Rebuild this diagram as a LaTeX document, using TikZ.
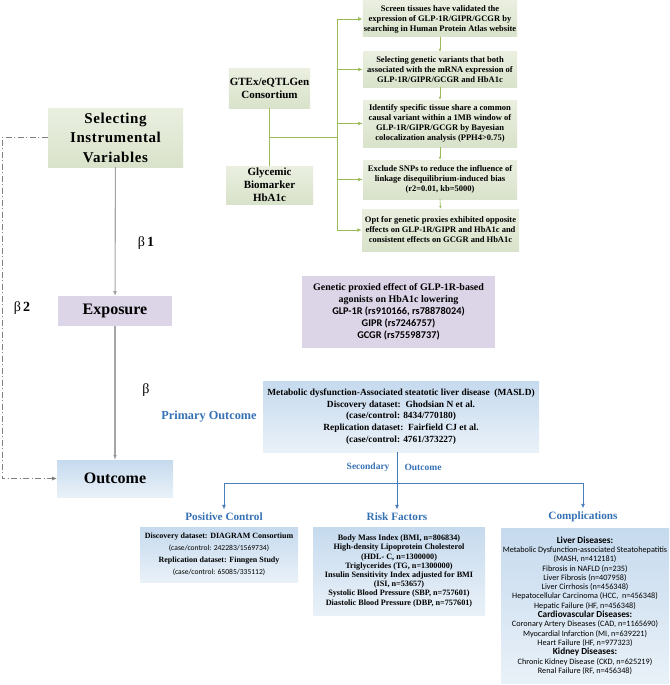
\documentclass[tikz,border=0pt]{standalone}
\usepackage{fontspec}
\setmainfont{Liberation Serif}
\newfontfamily\cbfont{Carlito}
\newfontfamily\wideserif[LetterSpace=4]{Liberation Serif}
\usetikzlibrary{arrows.meta,positioning}
\definecolor{gtop}{HTML}{EAEFE0}
\definecolor{gbot}{HTML}{D9E2CA}
\definecolor{pfill}{HTML}{DCD5E8}
\definecolor{btop}{HTML}{C6DAEE}
\definecolor{bbot}{HTML}{E9F1F8}
\definecolor{lgreen}{HTML}{9BBB59}
\definecolor{lblue}{HTML}{4A7EBB}
\definecolor{tblue}{HTML}{3671B5}
\definecolor{lgray}{HTML}{A5A5A5}
\definecolor{dgray}{HTML}{808080}
\tikzset{>={Latex[width=1.4mm,length=1.6mm]}}
\tikzset{greenbox/.style={top color=gtop, bottom color=gbot, draw=none,
    align=center, inner sep=1pt, font=\bfseries\fontsize{8.5}{10}\selectfont}}
\tikzset{purplebox/.style={fill=pfill, draw=none, align=center, inner sep=1pt}}
\tikzset{bluebox/.style={top color=btop, bottom color=bbot, draw=none,
    align=center, inner sep=1pt}}
\tikzset{bigtext/.style={font=\bfseries\fontsize{16}{19.5}\selectfont}}
\tikzset{midtext/.style={font=\bfseries\fontsize{11}{13}\selectfont}}
\tikzset{bluetitle/.style={text=tblue, font=\bfseries\fontsize{11.2}{13}\selectfont}}
\tikzset{betatext/.style={font=\fontsize{14}{16}\selectfont}}
\tikzset{grayarrow/.style={->, draw=lgray, line width=1.1pt}}
\tikzset{greenline/.style={draw=lgreen, line width=0.9pt}}
\tikzset{blueline/.style={draw=lblue, line width=0.9pt}}
\tikzset{ivdash/.style={->, draw=dgray, line width=0.7pt,
    dash pattern=on 6pt off 2.5pt on 1pt off 2.5pt}}

\begin{document}
\begin{tikzpicture}[x=1pt, y=-1pt]
    \useasboundingbox (0,0) rectangle (669,685);
    % left column
    \node[greenbox, font=\wideserif\bfseries\fontsize{15}{19.5}\selectfont,
      minimum width=135pt, minimum height=59pt] (siv) at (115.5,137.5)
      {Selecting\\Instrumental\\Variables};
    \node[purplebox, bigtext, minimum width=114pt, minimum height=30pt] (expo) at (115,311) {Exposure};
    \node[bluebox, bigtext, minimum width=116pt, minimum height=37pt] (outc) at (115,478.5) {Outcome};
    \node[betatext] (b1) at (146,243) {β\,\textbf{1}};
    \node[betatext] (b2) at (22,308) {β\,\textbf{2}};
    \node[betatext] (b3) at (146,390) {β};
    \coordinate (dl) at (2,478.5);
    \path[grayarrow] (siv) edge (expo);
    \path[grayarrow] (expo) edge (outc);
    \draw[ivdash] (siv.west) -| (dl) -- (outc.west);
    % instrument selection
    \node[greenbox, midtext, minimum width=81pt, minimum height=39pt] (gtex) at (269.5,88.5)
      {GTEx/eQTLGen\\Consortium};
    \node[greenbox, midtext, minimum width=87pt, minimum height=38pt] (glyc) at (269.5,185)
      {Glycemic\\Biomarker\\HbA1c};
    \node[greenbox, minimum width=154pt, minimum height=36pt] (s1) at (440,19)
      {Screen tissues have validated the\\expression of GLP-1R/GIPR/GCGR by\\searching in Human Protein Atlas website};
    \node[greenbox, minimum width=154pt, minimum height=35pt] (s2) at (440,69.5)
      {Selecting genetic variants that both\\associated with the mRNA expression of\\GLP-1R/GIPR/GCGR and HbA1c};
    \node[greenbox, minimum width=154pt, minimum height=47pt] (s3) at (440,123.5)
      {Identify specific tissue share a common\\causal variant within a 1MB window of\\GLP-1R/GIPR/GCGR by Bayesian\\colocalization analysis (PPH4>0.75)};
    \node[greenbox, minimum width=154pt, minimum height=39pt] (s4) at (440,179.5)
      {Exclude SNPs to reduce the influence of\\linkage disequilibrium-induced bias\\(r2=0.01, kb=5000)};
    \node[greenbox, minimum width=157pt, minimum height=42pt] (s5) at (440.5,230)
      {Opt for genetic proxies exhibited opposite\\effects on GLP-1R/GIPR and HbA1c and\\consistent effects on GCGR and HbA1c};
    \coordinate (bus) at (337,137);
    \draw[greenline] (gtex) -- (glyc);
    \draw[greenline] (gtex.south |- bus) -- (bus);
    \draw[greenline] (bus |- s1.west) -- (bus |- s5.west);
    \foreach \s in {s1,s2,s3,s4,s5}
      \draw[greenline, ->] (bus |- \s.west) -- (\s.west);
    \foreach \x/\y in {s1/s2,s2/s3,s3/s4,s4/s5}
      \draw[greenline, line width=0.6pt, -{Latex[width=0.9mm,length=1mm]}] (\x.south) -- (\y.north);
    % exposure
    \node[purplebox, minimum width=193pt, minimum height=72pt] (gen) at (398.5,312)
      {\bfseries\fontsize{10}{12.5}\selectfont Genetic proxied effect of GLP-1R-based\\
       \bfseries\fontsize{10}{12.5}\selectfont agonists on HbA1c lowering\\
       \cbfont\bfseries\fontsize{10.3}{12.5}\selectfont GLP-1R (rs910166, rs78878024)\\
       \cbfont\bfseries\fontsize{10.3}{12.5}\selectfont GIPR (rs7246757)\\
       \cbfont\bfseries\fontsize{10.3}{12.5}\selectfont GCGR (rs75598737)};
    % outcomes
    \node[bluebox, minimum width=276pt, minimum height=71pt,
      font=\bfseries\fontsize{9.4}{11.6}\selectfont] (masld) at (401,416.5)
      {Metabolic dysfunction-Associated steatotic liver disease~~(MASLD)\\
       Discovery dataset:~~Ghodsian N et al.\\(case/control: 8434/770180)\\
       Replication dataset:~~Fairfield CJ et al.\\(case/control: 4761/373227)};
    \node[bluetitle, font=\bfseries\fontsize{12.3}{14}\selectfont] (prim) at (209,417) {Primary Outcome};
    \node[bluetitle] (pct) at (224,517) {Positive Control};
    \node[bluetitle] (rft) at (397,517) {Risk Factors};
    \node[bluetitle] (cot) at (583,517) {Complications};
    \coordinate (bar) at (397,483);
    \node[text=tblue, font=\bfseries\fontsize{9.5}{10}\selectfont, anchor=east] (sec) at (393,467) {Secondary};
    \node[text=tblue, font=\bfseries\fontsize{9.5}{10}\selectfont, anchor=west] (secb) at (401,467) {Outcome};
    \draw[blueline] (masld.south -| bar) -- (bar);
    \draw[blueline] (pct.north |- bar) -- (cot.north |- bar);
    \foreach \t in {pct,rft,cot}
      \draw[blueline, ->] (\t.north |- bar) -- (\t.north);
    \node[bluebox, minimum width=158pt, minimum height=55pt] (pc) at (219,554.5)
      {\bfseries\fontsize{8}{10.3}\selectfont Discovery dataset: DIAGRAM Consortium\\
       \cbfont\fontsize{7.6}{10.3}\selectfont (case/control: 242283/1569734)\\
       \bfseries\fontsize{8}{10.3}\selectfont Replication dataset: Finngen Study\\
       \cbfont\fontsize{7.6}{10.3}\selectfont (case/control: 65085/335112)};
    \node[bluebox, minimum width=172pt, minimum height=88pt,
      font=\bfseries\fontsize{8.2}{9.2}\selectfont] (rf) at (399,571)
      {Body Mass Index (BMI, n=806834)\\High-density Lipoprotein Cholesterol\\(HDL- C, n=1300000)\\
       Triglycerides (TG, n=1300000)\\Insulin Sensitivity Index adjusted for BMI\\(ISI, n=53657)\\
       Systolic Blood Pressure (SBP, n=757601)\\Diastolic Blood Pressure (DBP, n=757601)};
    \node[bluebox, minimum width=168pt, minimum height=155pt,
      font=\cbfont\fontsize{8.2}{9.3}\selectfont] (comp) at (585,605.5)
      {{\bfseries\fontsize{9.3}{9.3}\selectfont Liver Diseases:}\\
       Metabolic Dysfunction-associated Steatohepatitis\\(MASH, n=412181)\\
       Fibrosis in NAFLD (n=235)\\Liver Fibrosis (n=407958)\\Liver Cirrhosis (n=456348)\\
       Hepatocellular Carcinoma (HCC,~~n=456348)\\Hepatic Failure (HF, n=456348)\\
       {\bfseries\fontsize{9.3}{9.3}\selectfont Cardiovascular Diseases:}\\
       Coronary Artery Diseases (CAD, n=1165690)\\Myocardial Infarction (MI, n=639221)\\
       Heart Failure (HF, n=977323)\\
       {\bfseries\fontsize{9.3}{9.3}\selectfont Kidney Diseases:}\\
       Chronic Kidney Disease (CKD, n=625219)\\Renal Failure (RF, n=456348)};
\end{tikzpicture}
\end{document}
